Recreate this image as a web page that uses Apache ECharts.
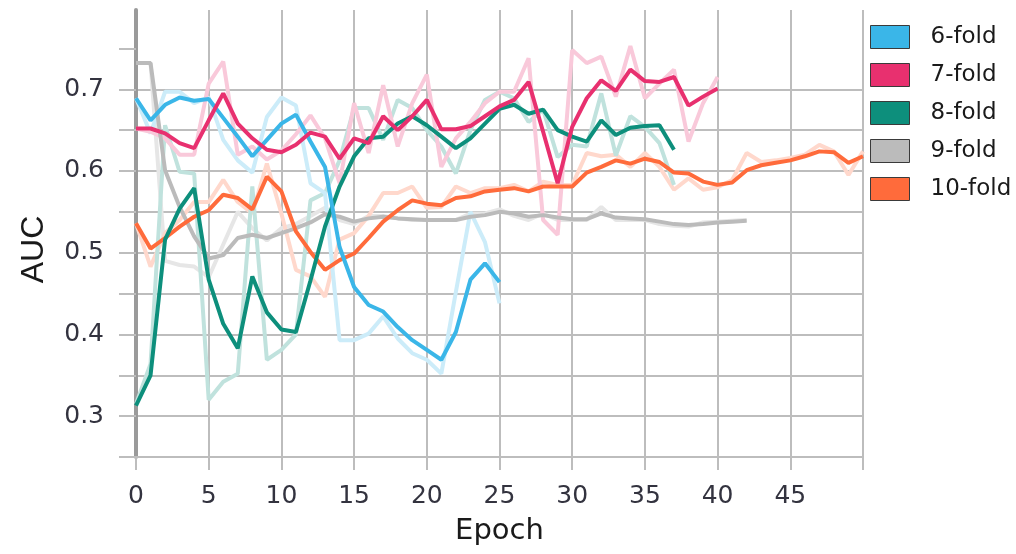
<!DOCTYPE html>
<html>
<head>
<meta charset="utf-8">
<script src="https://cdn.jsdelivr.net/npm/echarts@6/dist/echarts.min.js"></script>
<style>
html,body{margin:0;padding:0;background:#fff;}
#chart{width:1016px;height:554px;}
</style>
</head>
<body>
<div id="chart"></div>
<script>
// ---- data (AUC per epoch, index = epoch) ----
const foldNames = ['6-fold', '7-fold', '8-fold', '9-fold', '10-fold'];
const foldColors = ['#3AB6E8', '#E8306F', '#0D8F7C', '#BBBBBB', '#FF6B3B'];
const rawColors = ['#CCECF9', '#F9C9DA', '#C0E2DD', '#E6E6E6', '#FFD8CC'];

const smooth6 = [0.689, 0.662, 0.681, 0.690, 0.686, 0.688, 0.665, 0.642, 0.618, 0.638, 0.658, 0.669, 0.636, 0.605, 0.507, 0.458, 0.436, 0.428, 0.409, 0.393, 0.381, 0.369, 0.403, 0.467, 0.487, 0.464];
const raw6 = [0.689, 0.646, 0.697, 0.697, 0.683, 0.690, 0.638, 0.613, 0.598, 0.666, 0.690, 0.680, 0.585, 0.573, 0.393, 0.393, 0.401, 0.422, 0.395, 0.377, 0.369, 0.352, 0.452, 0.550, 0.513, 0.438];

const smooth7 = [0.652, 0.652, 0.646, 0.634, 0.628, 0.662, 0.695, 0.658, 0.640, 0.626, 0.623, 0.632, 0.647, 0.642, 0.615, 0.640, 0.634, 0.667, 0.650, 0.667, 0.687, 0.651, 0.651, 0.655, 0.667, 0.679, 0.687, 0.709, 0.648, 0.585, 0.654, 0.689, 0.711, 0.698, 0.724, 0.710, 0.709, 0.715, 0.680, 0.691, 0.701];
const raw7 = [0.652, 0.648, 0.640, 0.620, 0.620, 0.707, 0.734, 0.620, 0.630, 0.614, 0.625, 0.645, 0.668, 0.640, 0.585, 0.683, 0.622, 0.705, 0.630, 0.683, 0.718, 0.605, 0.640, 0.660, 0.683, 0.697, 0.697, 0.738, 0.540, 0.522, 0.748, 0.732, 0.740, 0.691, 0.753, 0.689, 0.707, 0.724, 0.636, 0.683, 0.715];

const smooth8 = [0.313, 0.350, 0.516, 0.554, 0.579, 0.467, 0.413, 0.383, 0.471, 0.427, 0.406, 0.403, 0.466, 0.532, 0.581, 0.618, 0.640, 0.642, 0.658, 0.667, 0.656, 0.642, 0.628, 0.640, 0.658, 0.676, 0.681, 0.670, 0.675, 0.650, 0.642, 0.636, 0.662, 0.644, 0.653, 0.655, 0.656, 0.626];
const raw8 = [0.315, 0.364, 0.656, 0.599, 0.597, 0.320, 0.342, 0.352, 0.581, 0.369, 0.381, 0.400, 0.564, 0.573, 0.613, 0.677, 0.677, 0.638, 0.687, 0.677, 0.650, 0.630, 0.597, 0.650, 0.687, 0.697, 0.689, 0.660, 0.675, 0.617, 0.632, 0.630, 0.695, 0.619, 0.667, 0.654, 0.634, 0.583];

const smooth9 = [0.732, 0.732, 0.601, 0.556, 0.520, 0.493, 0.497, 0.518, 0.522, 0.518, 0.524, 0.530, 0.537, 0.547, 0.544, 0.538, 0.542, 0.544, 0.542, 0.541, 0.540, 0.540, 0.540, 0.544, 0.546, 0.550, 0.548, 0.544, 0.546, 0.543, 0.541, 0.541, 0.548, 0.543, 0.542, 0.541, 0.538, 0.535, 0.534, 0.535, 0.537, 0.538, 0.539];
const raw9 = [0.732, 0.732, 0.490, 0.485, 0.483, 0.470, 0.510, 0.550, 0.530, 0.515, 0.530, 0.535, 0.545, 0.555, 0.540, 0.535, 0.545, 0.545, 0.542, 0.540, 0.540, 0.540, 0.540, 0.548, 0.548, 0.553, 0.545, 0.540, 0.548, 0.540, 0.540, 0.540, 0.556, 0.540, 0.540, 0.540, 0.535, 0.533, 0.532, 0.537, 0.538, 0.539, 0.540];

const smooth10 = [0.536, 0.505, 0.518, 0.532, 0.544, 0.552, 0.571, 0.567, 0.553, 0.593, 0.575, 0.526, 0.501, 0.479, 0.491, 0.499, 0.518, 0.538, 0.552, 0.564, 0.560, 0.558, 0.567, 0.569, 0.575, 0.577, 0.579, 0.575, 0.581, 0.581, 0.581, 0.598, 0.605, 0.613, 0.609, 0.615, 0.611, 0.598, 0.597, 0.587, 0.583, 0.586, 0.601, 0.607, 0.610, 0.613, 0.618, 0.624, 0.623, 0.610, 0.618];
const raw10 = [0.536, 0.483, 0.524, 0.540, 0.562, 0.562, 0.589, 0.562, 0.548, 0.609, 0.548, 0.479, 0.471, 0.446, 0.516, 0.524, 0.545, 0.573, 0.573, 0.581, 0.555, 0.556, 0.581, 0.573, 0.579, 0.579, 0.583, 0.575, 0.587, 0.583, 0.583, 0.622, 0.618, 0.620, 0.605, 0.622, 0.605, 0.577, 0.591, 0.577, 0.580, 0.589, 0.622, 0.611, 0.613, 0.616, 0.620, 0.632, 0.624, 0.595, 0.624];

const xTickValues = [0, 5, 10, 15, 20, 25, 30, 35, 40, 45];
const yLabelValues = [0.3, 0.4, 0.5, 0.6, 0.7];
const yGridValues = [0.25, 0.3, 0.35, 0.4, 0.45, 0.5, 0.55, 0.6, 0.65, 0.7, 0.75];

const smoothSets = [smooth6, smooth7, smooth8, smooth9, smooth10];
const rawSets = [raw6, raw7, raw8, raw9, raw10];

// ---- chart ----
const toPairs = arr => arr.map((v, i) => [i, v]);
const gridColor = '#bdbdbd';
const labelColor = '#33333f';

const series = [];
const rawOrder = [3, 4, 2, 0, 1];
rawOrder.forEach((k, j) => {
  series.push({
    name: foldNames[k] + ' raw',
    type: 'line',
    data: toPairs(rawSets[k]),
    showSymbol: false,
    symbol: 'none',
    silent: true,
    z: 2,
    zlevel: 0,
    lineStyle: { color: rawColors[k], width: 4 },
    itemStyle: { color: rawColors[k] }
  });
});
const drawOrder = [3, 4, 2, 0, 1];
drawOrder.forEach((k, j) => {
  series.push({
    name: foldNames[k],
    type: 'line',
    data: toPairs(smoothSets[k]),
    showSymbol: false,
    symbol: 'none',
    z: 3 + j,
    lineStyle: { color: foldColors[k], width: 4 },
    itemStyle: { color: foldColors[k] }
  });
});

const isLabelValue = v => yLabelValues.some(t => Math.abs(t - v) < 1e-6);

const chart = echarts.init(document.getElementById('chart'), null, { renderer: 'canvas' });
chart.setOption({
  animation: false,
  backgroundColor: '#ffffff',
  grid: { left: 136, right: 153, top: 10, bottom: 97, containLabel: false },
  legend: {
    data: foldNames,
    orient: 'vertical',
    left: 870,
    top: 25,
    padding: 0,
    itemWidth: 39,
    itemHeight: 23,
    itemGap: 14,
    icon: 'rect',
    selectedMode: false,
    itemStyle: { borderColor: '#3a3a3a', borderWidth: 1 },
    textStyle: { fontFamily: 'DejaVu Sans', fontSize: 23, color: '#1a1a1a', padding: [0, 0, 0, 16] }
  },
  xAxis: {
    type: 'value',
    min: 0,
    max: 50,
    interval: 5,
    name: 'Epoch',
    nameLocation: 'middle',
    nameGap: 60,
    nameTextStyle: { fontFamily: 'DejaVu Sans', fontSize: 29, color: '#1a1a1a' },
    axisLine: { show: true, onZero: false, lineStyle: { color: gridColor, width: 2 } },
    axisTick: { show: true, length: 13, lineStyle: { color: gridColor, width: 2 } },
    axisLabel: {
      customValues: xTickValues,
      margin: 27,
      fontFamily: 'DejaVu Sans',
      fontSize: 25,
      color: labelColor,
      formatter: v => (v <= 45 ? String(v) : '')
    },
    splitLine: { show: true, lineStyle: { color: gridColor, width: 2 } }
  },
  yAxis: {
    type: 'value',
    min: 0.25,
    max: 0.797,
    interval: 0.05,
    name: 'AUC',
    nameLocation: 'middle',
    nameRotate: 90,
    nameGap: 86,
    nameTextStyle: { fontFamily: 'Liberation Sans', fontSize: 32, color: '#1a1a1a', padding: [0, 32, 0, 0] },
    axisLine: { show: true, onZero: false, lineStyle: { color: '#9a9a9a', width: 4 } },
    axisTick: { show: true, length: 17, customValues: yGridValues, lineStyle: { color: gridColor, width: 2 } },
    axisLabel: {
      customValues: yLabelValues,
      margin: 32,
      fontFamily: 'DejaVu Sans',
      fontSize: 25,
      color: labelColor,
      formatter: v => (isLabelValue(v) ? v.toFixed(1) : '')
    },
    splitLine: { show: true, showMaxLine: false, lineStyle: { color: gridColor, width: 2 } }
  },
  series: series
});
</script>
</body>
</html>
